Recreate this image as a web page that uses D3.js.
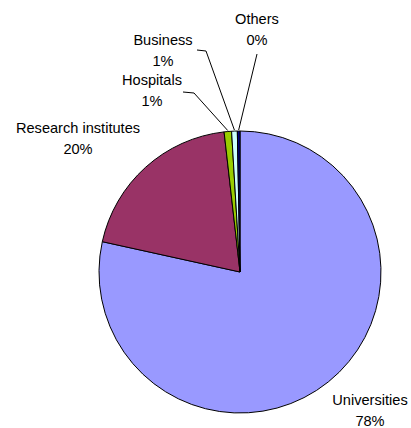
<!DOCTYPE html>
<html>
<head>
<meta charset="utf-8">
<script src="https://cdn.jsdelivr.net/npm/d3@7"></script>
<style>
  body { margin: 0; background: #fff; }
  svg { display: block; }
</style>
</head>
<body>
<div id="chart"></div>
<script>
// data (shares in %)
const categories = ["Universities", "Research institutes", "Hospitals", "Business", "Others"];
const shares = [78.45, 19.75, 0.85, 0.65, 0.3];
const percentLabels = ["78%", "20%", "1%", "1%", "0%"];
const colors = ["#9999ff", "#993366", "#99cc00", "#ccffff", "#000080"];

const w = 411, h = 428;
const cx = 240, cy = 272, r = 141;

// where each label sits (centre x, first baseline y) and where its leader starts
const labelLayout = [
  { x: 370, y: 405, leader: null },
  { x: 78, y: 133, leader: null },
  { x: 152, y: 85, leader: [[183, 92], [194, 93]] },
  { x: 163, y: 45, leader: [[197, 50], [206, 51]] },
  { x: 257, y: 24, leader: [[257, 54]] }
];

const rows = categories.map((c, i) => ({ name: c, value: shares[i], pct: percentLabels[i], i }));

const svg = d3.select("#chart").append("svg")
    .attr("width", w)
    .attr("height", h);

const pie = d3.pie().sort(null).value(d => d.value);
const arc = d3.arc().innerRadius(0).outerRadius(r);
const arcs = pie(rows);

const g = svg.append("g").attr("transform", `translate(${cx},${cy})`);

g.selectAll("path")
  .data(arcs)
  .join("path")
    .attr("d", arc)
    .attr("fill", d => colors[d.data.i])
    .attr("stroke", "#000")
    .attr("stroke-width", 1)
    .attr("stroke-linejoin", "round");

// leader lines
arcs.forEach(a => {
  const lay = labelLayout[a.data.i];
  if (!lay.leader) return;
  const mid = (a.startAngle + a.endAngle) / 2;
  const end = [cx + (r + 1) * Math.sin(mid), cy - (r + 1) * Math.cos(mid)];
  svg.append("path")
    .attr("d", d3.line()(lay.leader.concat([end])))
    .attr("fill", "none")
    .attr("stroke", "#000")
    .attr("stroke-width", 1);
});

// labels
const labels = svg.append("g")
    .attr("font-family", "'Liberation Sans', Arial, sans-serif")
    .attr("font-size", 14.6)
    .attr("fill", "#000")
    .attr("text-anchor", "middle");

rows.forEach(d => {
  const lay = labelLayout[d.i];
  const t = labels.append("text").attr("x", lay.x).attr("y", lay.y);
  t.append("tspan").attr("x", lay.x).text(d.name);
  t.append("tspan").attr("x", lay.x).attr("dy", 21).text(d.pct);
});
</script>
</body>
</html>
